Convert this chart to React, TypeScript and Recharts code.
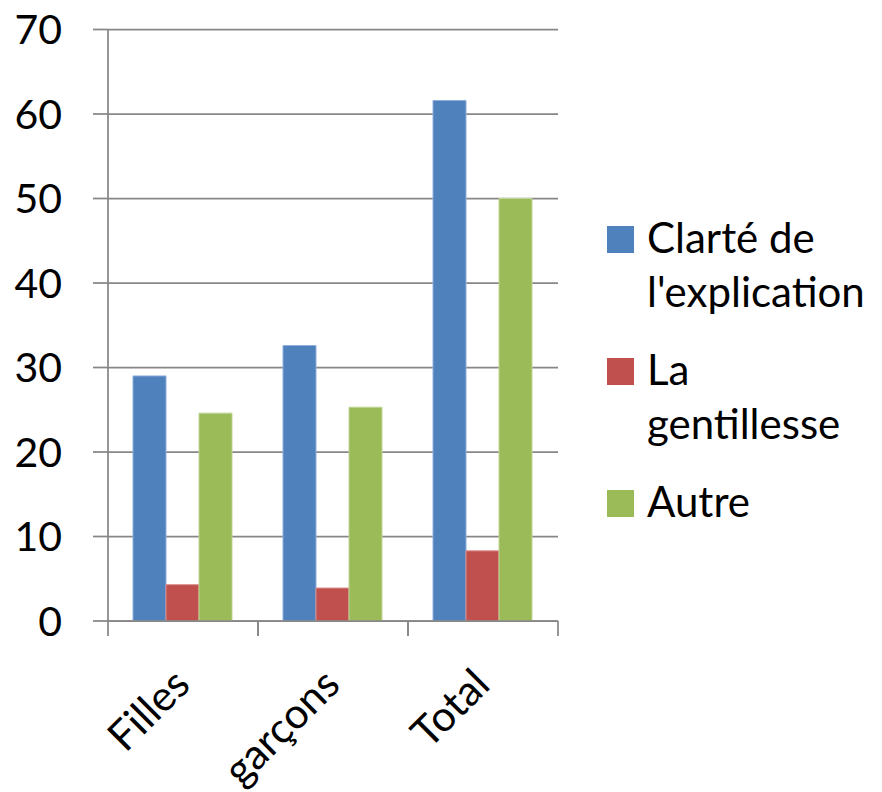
import React from 'react';
import { BarChart, Bar, XAxis, YAxis, CartesianGrid, Legend } from 'recharts';

const categories = ['Filles', 'garçons', 'Total'];
const clarte = [29.0, 32.6, 61.6];
const gentillesse = [4.3, 3.9, 8.3];
const autre = [24.6, 25.3, 50.0];
const yTicks = [0, 10, 20, 30, 40, 50, 60, 70];
const seriesNames = ["Clarté de l'explication", 'La gentillesse', 'Autre'];
const seriesColors = ['#4F81BD', '#C0504D', '#9BBB59'];
const seriesStrokes = ['#8FAEDB', '#D98C8A', '#BDD596'];

const data = categories.map((c, i) => ({
  name: c,
  clarte: clarte[i],
  gentillesse: gentillesse[i],
  autre: autre[i],
}));

const GRID = '#878787';
const FONT = 'Lato, "Noto Sans", sans-serif';

const XTick = (props: any) => {
  const { x, y, payload } = props;
  const half = payload && typeof payload.offset === 'number' && payload.offset > 0 ? payload.offset : 75;
  const ax = x + 9;
  const ay = y + 66;
  return (
    <g>
      <line x1={x - half} y1={y} x2={x - half} y2={y + 15} stroke={GRID} strokeWidth={1.75} />
      <line x1={x + half} y1={y} x2={x + half} y2={y + 15} stroke={GRID} strokeWidth={1.75} />
      <text
        x={ax}
        y={ay}
        textAnchor="end"
        transform={`rotate(-45 ${ax} ${ay})`}
        fontSize={42}
        fill="#000"
        fontFamily={FONT}
      >
        {payload.value}
      </text>
    </g>
  );
};

const LegendContent = (props: any) => {
  const items = [...(props.payload || [])].sort(
    (a: any, b: any) => seriesNames.indexOf(a.value) - seriesNames.indexOf(b.value)
  );
  return (
    <div style={{ fontFamily: FONT, fontSize: 42, lineHeight: '54px', color: '#000' }}>
      {items.map((p: any, i: number) => (
        <div key={i} style={{ display: 'flex', alignItems: 'flex-start', marginBottom: 24 }}>
          <div
            style={{
              width: 27,
              height: 27,
              background: p.color,
              marginTop: 16,
              marginLeft: 7,
              marginRight: 13,
              flexShrink: 0,
            }}
          />
          <div style={{ width: 235 }}>{p.value}</div>
        </div>
      ))}
    </div>
  );
};

export default function App() {
  return (
    <div style={{ position: 'absolute', left: 0, top: 0, width: 882, height: 792, background: '#fff' }}>
      <BarChart
        width={882}
        height={792}
        data={data}
        margin={{ top: 29.5, right: 324, bottom: 0, left: 0 }}
        barCategoryGap="16.67%"
        barGap={0}
      >
        <CartesianGrid vertical={false} stroke={GRID} strokeWidth={1.75} />
        <XAxis
          dataKey="name"
          height={171}
          interval={0}
          tickLine={false}
          tickSize={0}
          tickMargin={0}
          axisLine={{ stroke: GRID, strokeWidth: 1.75 }}
          tick={<XTick />}
        />
        <YAxis
          width={108}
          domain={[0, 70]}
          ticks={yTicks}
          interval={0}
          tickSize={15}
          tickMargin={31}
          axisLine={{ stroke: GRID, strokeWidth: 1.75 }}
          tickLine={{ stroke: GRID, strokeWidth: 1.75 }}
          tick={{ fontSize: 41, fill: '#000', fontFamily: FONT }}
        />
        <Legend
          layout="vertical"
          align="center"
          verticalAlign="middle"
          content={<LegendContent />}
          wrapperStyle={{ position: 'absolute', left: 600, top: 210, width: 282 }}
        />
        <Bar dataKey="clarte" name={seriesNames[0]} fill={seriesColors[0]} stroke={seriesStrokes[0]} strokeWidth={1} isAnimationActive={false} />
        <Bar dataKey="gentillesse" name={seriesNames[1]} fill={seriesColors[1]} stroke={seriesStrokes[1]} strokeWidth={1} isAnimationActive={false} />
        <Bar dataKey="autre" name={seriesNames[2]} fill={seriesColors[2]} stroke={seriesStrokes[2]} strokeWidth={1} isAnimationActive={false} />
      </BarChart>
    </div>
  );
}
